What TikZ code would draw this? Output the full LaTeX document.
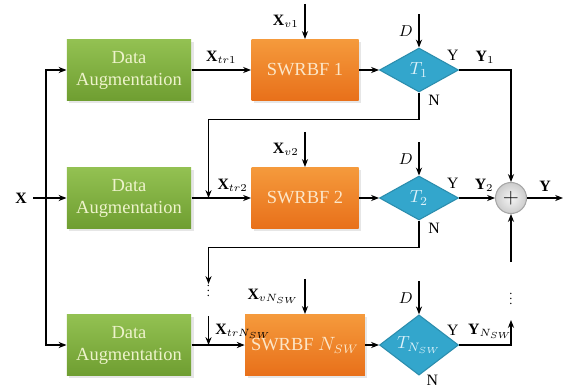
\documentclass[tikz,border=0pt]{standalone}
\usepackage{amsmath}
\usepackage{amssymb}
\usepackage{fontspec}
\setmainfont{Liberation Serif}
\usetikzlibrary{positioning,shapes.geometric,arrows.meta,shadows}
\usepackage{tikz}

\definecolor{leafTop}{HTML}{93C152}
\definecolor{leafBot}{HTML}{6F9E31}
\definecolor{leafText}{HTML}{EEF3CC}
\definecolor{rbfTop}{HTML}{F59A3C}
\definecolor{rbfBot}{HTML}{E8701A}
\definecolor{rbfText}{HTML}{FCE6C8}
\definecolor{testBlue}{HTML}{33A6CC}
\definecolor{testText}{HTML}{DDF2FA}

\tikzset{
	augbox/.style={rectangle,minimum width=24.8mm,minimum height=12.2mm,top color=leafTop,bottom color=leafBot,
		text=leafText,align=center,font=\rmfamily\fontsize{10.5}{12.5}\selectfont,
		drop shadow={opacity=0.2,shadow xshift=0.5mm,shadow yshift=-0.5mm}},
	rbfbox/.style={rectangle,minimum width=21.4mm,minimum height=12.2mm,top color=rbfTop,bottom color=rbfBot,
		text=rbfText,font=\rmfamily\fontsize{10.5}{12.5}\selectfont,
		drop shadow={opacity=0.2,shadow xshift=0.5mm,shadow yshift=-0.5mm}},
	testnode/.style={diamond,minimum width=15.8mm,minimum height=8.8mm,inner sep=0pt,fill=testBlue,
		draw=testBlue!85!black,text=testText},
	sumnode/.style={circle,minimum size=6.2mm,inner sep=0pt,draw=gray!70,inner color=gray!8,outer color=gray!40,font=\large},
	dotsnode/.style={inner sep=0pt,scale=0.7},
	lbl/.style={font=\fontsize{9}{10}\selectfont},
}

\begin{document}
\begin{tikzpicture}[>={Stealth[length=4.5pt,width=3.5pt]},line width=0.6pt,on grid,auto]
		\useasboundingbox (-25.8mm,14mm) rectangle (88.2mm,-63.6mm);
		% first row
		\node[augbox](da1) {Data\\Augmentation};
		\node[rbfbox](sw1)[right=35.2mm of da1] {SWRBF 1};
		\node[testnode](T1)[right=22.8mm of sw1] {$T_1$};
		% second row
		\node[augbox](da2)[below=25.6mm of da1] {Data\\Augmentation};
		\node[rbfbox](sw2)[below=25.6mm of sw1] {SWRBF 2};
		\node[testnode](T2)[below=25.6mm of T1] {$T_2$};
		\node[sumnode](plus)[right=18.4mm of T2] {$+$};
		% last row
		\node[augbox](da3)[below=29.4mm of da2] {Data\\Augmentation};
		\node[rbfbox](sw3)[below=29.4mm of sw2] {SWRBF $N_{SW}$};
		\node[testnode](T3)[below=29.4mm of T2] {$T_{N_{SW}}$};

		% input and its split
		\node[lbl](X)[left=21.6mm of da2] {$\mathbf{X}$};
		\coordinate[left=16.6mm of da2] (split);
		\draw[->] (X) -- (da2);
		\draw[->] (split) |- (da1);
		\draw[->] (split) |- (da3);

		% validation and threshold inputs
		\coordinate[above=7mm of sw1.north] (v1);
		\coordinate[above=7mm of sw2.north] (v2);
		\coordinate[above=7mm of sw3.north] (v3);
		\coordinate[above=6.6mm of T1.north] (d1);
		\coordinate[above=6.6mm of T2.north] (d2);
		\coordinate[above=6.6mm of T3.north] (d3);
		\path[->]
		(v1) edge[swap] node[lbl] {$\mathbf{X}_{v1}$} (sw1)
		(v2) edge[swap] node[lbl] {$\mathbf{X}_{v2}$} (sw2)
		(v3) edge[swap] node[lbl] {$\mathbf{X}_{vN_{SW}}$} (sw3)
		(d1) edge[swap] node[lbl] {$D$} (T1)
		(d2) edge[swap] node[lbl] {$D$} (T2)
		(d3) edge[swap] node[lbl] {$D$} (T3)
		(da1) edge node[lbl] {$\mathbf{X}_{tr1}$} (sw1)
		(da2) edge node[lbl,pos=0.33,anchor=south west] {$\mathbf{X}_{tr2}$} (sw2)
		(da3) edge node[lbl,pos=0.33,anchor=south west] {$\mathbf{X}_{trN_{SW}}$} (sw3)
		(sw1) edge (T1)
		(sw2) edge (T2)
		(sw3) edge (T3);

		% rejected samples go to the next stage
		\coordinate[right=3.4mm of da2.east] (j2);
		\coordinate[right=3.4mm of da3.east] (j3);
		\coordinate[below=5.4mm of T1.south] (n1);
		\coordinate[below=5.4mm of T2.south] (n2);
		\coordinate[above=12.2mm of j3] (g1);
		\coordinate[above=5.8mm of j3] (g2);
		\node[dotsnode](vd1)[above=9.6mm of j3] {$\vdots$};
		\draw[->] (T1.south) node[lbl,anchor=north west,xshift=1.4mm,inner sep=1pt] {N} -- (n1) -| (j2);
		\draw[->] (T2.south) node[lbl,anchor=north west,xshift=1.4mm,inner sep=1pt] {N} -- (n2) -| (g1);
		\draw[->] (g2) -- (j3);
		\node[lbl,anchor=north west,xshift=1.4mm,yshift=0.2mm,inner sep=0pt] at (T3.south) {N};

		% accepted outputs are summed
		\coordinate[below=24.4mm of plus] (g3);
		\coordinate[below=12.8mm of plus] (g4);
		\node[dotsnode](vd2)[below=19.4mm of plus] {$\vdots$};
		\coordinate[right=10.4mm of plus] (out);
		\draw[->] (T1.east) node[lbl,anchor=south east,inner sep=0pt,yshift=1.8mm] {Y}
			-| node[lbl,pos=0.25] {$\mathbf{Y}_1$} (plus);
		\draw[->] (T2.east) node[lbl,anchor=south east,inner sep=0pt,yshift=1.8mm] {Y}
			-- node[lbl,pos=0.7] {$\mathbf{Y}_2$} (plus);
		\draw[->] (T3.east) node[lbl,anchor=south east,inner sep=0pt,yshift=1.8mm] {Y}
			-| node[lbl,pos=0.3] {$\mathbf{Y}_{N_{SW}}$} (g3);
		\draw[->] (g4) -- (plus);
		\draw[->] (plus) -- node[lbl] {$\mathbf{Y}$} (out);
		\end{tikzpicture}
\end{document}
